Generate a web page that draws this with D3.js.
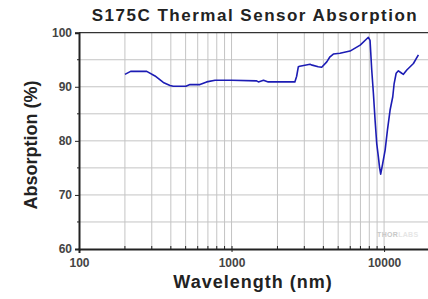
<!DOCTYPE html>
<html>
<head>
<meta charset="utf-8">
<script src="https://cdn.jsdelivr.net/npm/d3@7"></script>
<style>
  html, body { margin: 0; padding: 0; background: #fff; }
  svg { display: block; font-family: Arial, "Liberation Sans", sans-serif; }
</style>
</head>
<body>
<div id="chart"></div>
<script>
const W = 428;
const H = 299;
const MARGIN = { top: 32.7, right: -2, bottom: 50, left: 79 };

// wavelength (nm) and absorption (%)
const wavelength = [200, 218, 278, 315, 357, 395, 415, 502, 534, 621, 687, 780, 1000, 1460, 1500, 1620, 1740, 2600, 2670, 2740, 2800, 3270, 3380, 3700, 3900, 4210, 4420, 4650, 5140, 5980, 6970, 7890, 8090, 8300, 8510, 8730, 8950, 9180, 9330, 9500, 9790, 10160, 10520, 10950, 11400, 11640, 12000, 12410, 13060, 13390, 14090, 15570, 16790];
const absorption = [92.3, 92.85, 92.85, 92.0, 90.8, 90.25, 90.1, 90.1, 90.4, 90.4, 90.9, 91.2, 91.2, 91.1, 90.9, 91.2, 90.9, 90.9, 91.9, 93.7, 93.8, 94.15, 94.0, 93.7, 93.6, 94.6, 95.55, 96.05, 96.2, 96.6, 97.7, 99.15, 98.6, 93.1, 88.8, 83.8, 79.5, 77.0, 75.2, 73.85, 75.8, 78.3, 82.0, 85.7, 88.15, 90.6, 92.5, 92.95, 92.5, 92.3, 93.1, 94.3, 95.9];

const xDomain = [100, 20000];
const yDomain = [60, 100];
const xTickLabels = [100, 1000, 10000];
const yTickLabels = [60, 70, 80, 90, 100];
const yMinor = [65, 75, 85, 95];
const xGrid = [200, 300, 400, 500, 600, 700, 800, 900, 1000, 2000, 3000, 4000, 5000, 6000, 7000, 8000, 9000, 10000];

const points = wavelength.map((w, i) => ({ w, a: absorption[i] }));

const x = d3.scaleLog().domain(xDomain).range([MARGIN.left, W - MARGIN.right]);
const y = d3.scaleLinear().domain(yDomain).range([H - MARGIN.bottom, MARGIN.top]);

const svg = d3.select("#chart").append("svg")
  .attr("width", W)
  .attr("height", H)
  .attr("viewBox", `0 0 ${W} ${H}`);

// grid
svg.append("g")
  .selectAll("line")
  .data(xGrid)
  .join("line")
  .attr("x1", (d) => x(d)).attr("x2", (d) => x(d))
  .attr("y1", y(100)).attr("y2", y(60))
  .attr("stroke", "#c4c4c4")
  .attr("stroke-width", 1);

svg.append("g")
  .selectAll("line")
  .data([65, 70, 75, 80, 85, 90, 95])
  .join("line")
  .attr("x1", x(100)).attr("x2", W)
  .attr("y1", (d) => y(d)).attr("y2", (d) => y(d))
  .attr("stroke", "#c4c4c4")
  .attr("stroke-width", 1);

// top border
svg.append("line")
  .attr("x1", x(100)).attr("x2", W)
  .attr("y1", y(100)).attr("y2", y(100))
  .attr("stroke", "#333")
  .attr("stroke-width", 1.2);

// watermark
const wm = svg.append("text")
  .attr("x", x(9000))
  .attr("y", y(62.2))
  .attr("font-size", 7)
  .attr("font-weight", "bold")
  .attr("letter-spacing", 0.3);
wm.append("tspan").attr("fill", "#c8c8c8").text("THOR");
wm.append("tspan").attr("fill", "#e6e6e6").text("LABS");

// curve
const line = d3.line()
  .x((d) => x(d.w))
  .y((d) => y(d.a));

svg.append("path")
  .datum(points)
  .attr("d", line)
  .attr("fill", "none")
  .attr("stroke", "#1c1cb4")
  .attr("stroke-width", 1.6)
  .attr("stroke-linejoin", "round");

// axes
const xAxis = d3.axisBottom(x)
  .tickValues(xTickLabels)
  .tickFormat(d3.format("d"))
  .tickSize(4)
  .tickPadding(5);

const gx = svg.append("g")
  .attr("transform", `translate(0,${y(60)})`)
  .call(xAxis);
gx.select(".domain").attr("stroke", "#222").attr("stroke-width", 2);
gx.selectAll(".tick line").attr("stroke", "#222").attr("y1", -3).attr("y2", 3);
gx.selectAll(".tick text")
  .attr("fill", "#444")
  .attr("font-size", 12)
  .attr("font-weight", "bold")
  .attr("font-family", "Arial, 'Liberation Sans', sans-serif");

svg.append("g")
  .selectAll("line")
  .data(xGrid.filter((d) => !xTickLabels.includes(d)))
  .join("line")
  .attr("x1", (d) => x(d)).attr("x2", (d) => x(d))
  .attr("y1", y(60) - 3).attr("y2", y(60) + 1)
  .attr("stroke", "#222");

const yAxis = d3.axisLeft(y)
  .tickValues(yTickLabels)
  .tickSize(4)
  .tickPadding(3);

const gy = svg.append("g")
  .attr("transform", `translate(${x(100)},0)`)
  .call(yAxis);
gy.select(".domain").attr("stroke", "#222").attr("stroke-width", 2);
gy.selectAll(".tick line").attr("stroke", "#222");
gy.selectAll(".tick text")
  .attr("fill", "#444")
  .attr("font-size", 12)
  .attr("font-weight", "bold")
  .attr("font-family", "Arial, 'Liberation Sans', sans-serif");

svg.append("g")
  .selectAll("line")
  .data(yMinor)
  .join("line")
  .attr("x1", x(100) - 2).attr("x2", x(100))
  .attr("y1", (d) => y(d)).attr("y2", (d) => y(d))
  .attr("stroke", "#222");

// titles
svg.append("text")
  .attr("x", 255)
  .attr("y", 21)
  .attr("text-anchor", "middle")
  .attr("font-size", 17)
  .attr("font-weight", "bold")
  .attr("letter-spacing", 1.5)
  .attr("fill", "#222")
  .text("S175C Thermal Sensor Absorption");

svg.append("text")
  .attr("x", 253)
  .attr("y", 288)
  .attr("text-anchor", "middle")
  .attr("font-size", 18)
  .attr("font-weight", "bold")
  .attr("letter-spacing", 1)
  .attr("fill", "#222")
  .text("Wavelength (nm)");

svg.append("text")
  .attr("transform", `translate(37,145) rotate(-90)`)
  .attr("text-anchor", "middle")
  .attr("font-size", 18)
  .attr("font-weight", "bold")
  .attr("fill", "#222")
  .text("Absorption (%)");
</script>
</body>
</html>
